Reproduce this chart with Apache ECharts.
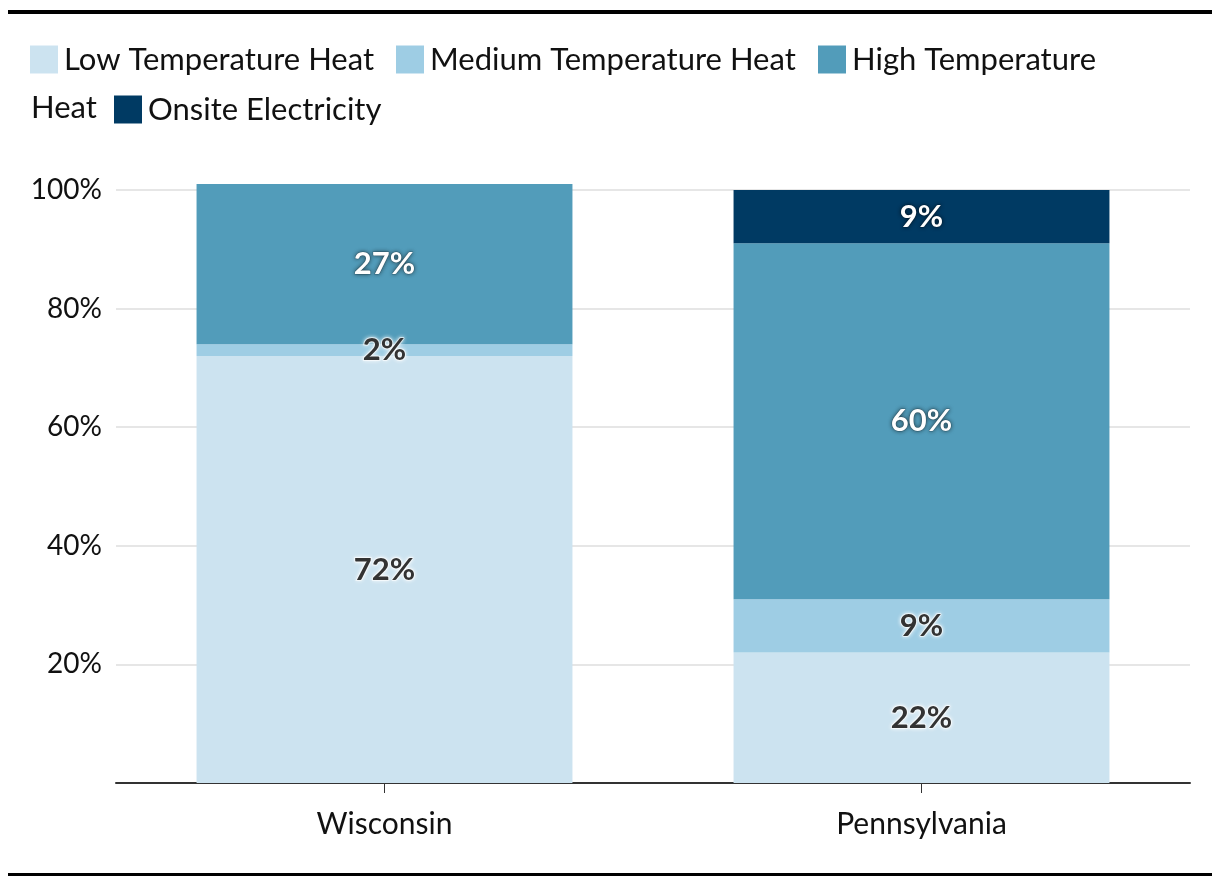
<!DOCTYPE html>
<html><head><meta charset="utf-8">
<script src="https://cdn.jsdelivr.net/npm/echarts@6/dist/echarts.min.js"></script>
<style>html,body{margin:0;padding:0;background:#fff}#c{width:1220px;height:888px}</style>
</head><body><div id="c"></div>
<script>
const categories = ['Wisconsin', 'Pennsylvania'];
const seriesNames = ['Low Temperature Heat', 'Medium Temperature Heat', 'High Temperature Heat', 'Onsite Electricity'];
const lowTemp = [72, 22];
const mediumTemp = [2, 9];
const highTemp = [27, 60];
const onsiteElec = [null, 9];
const yTicks = [0, 20, 40, 60, 80, 100];
const colors = ['#cce3f0', '#9ecde4', '#529cba', '#003a63'];

const FONT = 'Lato';
const chart = echarts.init(document.getElementById('c'), null, {renderer: 'canvas'});
const values = [lowTemp, mediumTemp, highTemp, onsiteElec];
const darkLabel = {color: '#333', textBorderColor: 'rgba(255,255,255,0.6)', textBorderWidth: 2, textShadowColor: 'rgba(255,255,255,0.9)', textShadowBlur: 4};
const lightLabel = {color: '#fff', textBorderColor: 'rgba(0,0,0,0.25)', textBorderWidth: 1, textShadowColor: 'rgba(0,0,0,0.6)', textShadowBlur: 4};

const series = seriesNames.map((n, i) => ({
  name: n, type: 'bar', stack: 'total', barWidth: '70%', clip: false,
  data: values[i],
  itemStyle: {color: colors[i]},
  label: Object.assign({show: true, position: 'inside', fontFamily: FONT, fontWeight: 'bold', fontSize: 31,
    formatter: p => (p.value == null ? '' : p.value + '%')}, i < 2 ? darkLabel : lightLabel),
  emphasis: {disabled: true}
}));

const legendPos = [[30, 44], [396, 44], [818, 44], [114, 94]];
const legends = seriesNames.map((n, i) => ({
  left: legendPos[i][0], top: legendPos[i][1], padding: 0,
  itemWidth: 28, itemHeight: 28, icon: 'rect',
  data: [n],
  formatter: s => s === 'High Temperature Heat' ? 'High Temperature' : s,
  textStyle: {fontFamily: FONT, fontSize: 31, color: '#111', padding: [0, 0, 0, 1]},
  selectedMode: false
}));

chart.setOption({
  animation: false,
  textStyle: {fontFamily: FONT},
  legend: legends,
  graphic: [
    {type: 'rect', left: 8, top: 10, shape: {width: 1204, height: 4}, style: {fill: '#000'}},
    {type: 'rect', left: 8, top: 873, shape: {width: 1204, height: 3}, style: {fill: '#000'}},
    {type: 'text', x: 31, y: 108, style: {text: 'Heat', font: '31px ' + FONT, fill: '#111', verticalAlign: 'middle'}}
  ],
  grid: {left: 116, right: 30, top: 190, bottom: 105, containLabel: false},
  xAxis: {
    type: 'category', data: categories,
    axisLine: {lineStyle: {color: '#333', width: 2}},
    axisTick: {show: true, alignWithLabel: true, length: 10, lineStyle: {color: '#333', width: 1}},
    axisLabel: {fontFamily: FONT, fontSize: 30, color: '#111', margin: 26}
  },
  yAxis: {
    type: 'value', min: yTicks[0], max: yTicks[yTicks.length - 1], interval: 20,
    axisLine: {show: false}, axisTick: {show: false},
    splitLine: {lineStyle: {color: '#e6e6e6', width: 2}},
    axisLabel: {fontFamily: FONT, fontSize: 28, color: '#111', margin: 14,
      formatter: v => v === 0 ? '' : v + '%'}
  },
  series: series
});
</script></body></html>
